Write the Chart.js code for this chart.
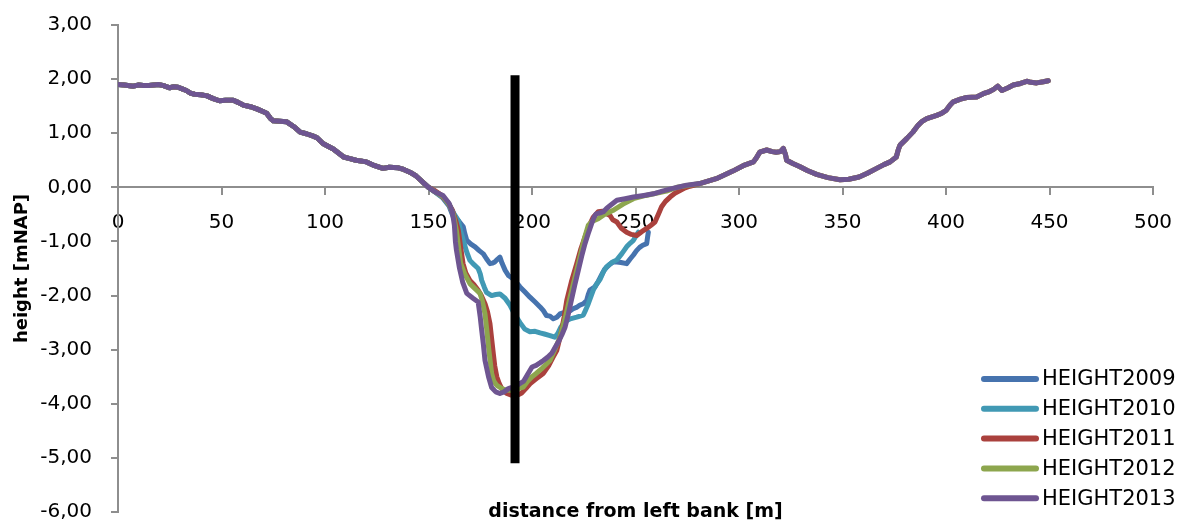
<!DOCTYPE html>
<html>
<head>
<meta charset="utf-8">
<title>Cross-section heights</title>
<script src="https://cdn.jsdelivr.net/npm/chart.js@4.4.1/dist/chart.umd.min.js"></script>
<style>
html, body { margin: 0; padding: 0; background: #fff; }
#wrap { width: 1182px; height: 525px; }
</style>
</head>
<body>
<div id="wrap"><canvas id="profileChart" width="1182" height="525"></canvas></div>
<script>
// [distance m, height mNAP] pairs
var leftBank = [
    [0,1.90],[3,1.89],[7.4,1.87],[10,1.89],[12.2,1.88],[15,1.88],[19.5,1.90],[22,1.88],[25,1.84],[27,1.86],
    [29,1.85],[31,1.82],[33,1.79],[35,1.74],[37,1.72],[40,1.71],[43,1.69],[46,1.64],[49,1.60],[52,1.61],
    [55.7,1.61],[58,1.57],[60.5,1.52],[64,1.49],[67,1.45],[70,1.40],[71.8,1.37],[73.5,1.28],[75,1.23],[78,1.22],
    [81.5,1.21],[85,1.12],[88,1.02],[91,0.99],[94,0.95],[96,0.92],[99,0.81],[101,0.77],[104,0.71],[107,0.62],
    [109,0.56],[112,0.53],[115,0.50],[120,0.47],[124,0.40],[128,0.35],[131,0.37],[135.4,0.36],[138,0.33],[141,0.28],
    [144,0.21],[146,0.14],[148,0.07],[150,0.0]
];

var rightBank = [
    [281,0.07],[289,0.16],[297,0.30],[302,0.40],[307,0.47],[308.5,0.55],[310,0.65],[313.4,0.69],[316,0.66],[318,0.65],
    [320,0.66],[321.4,0.72],[322.5,0.60],[323,0.50],[326,0.44],[329.5,0.38],[333,0.31],[337.5,0.24],[343,0.18],[348.8,0.14],
    [353,0.15],[358,0.19],[362,0.26],[366.5,0.35],[370,0.42],[373,0.47],[376,0.56],[377,0.70],[377.8,0.78],[381,0.90],
    [384,1.02],[386.6,1.15],[388.5,1.22],[390.7,1.27],[395.5,1.33],[398,1.37],[400,1.42],[402,1.52],[403.5,1.58],[407,1.63],
    [410,1.66],[414.8,1.67],[418,1.73],[421,1.77],[423,1.81],[425,1.87],[427,1.79],[430,1.84],[432.5,1.89],[436,1.92],
    [439,1.96],[441,1.94],[443.8,1.93],[447,1.95],[449.4,1.97]
];

var channel2009 = [
    [153,-0.08],[157,-0.20],[160,-0.35],[162,-0.55],[164.5,-0.62],[166.8,-0.73],[167.5,-0.85],[168.5,-0.98],[170.5,-1.05],[172.5,-1.10],
    [174.5,-1.17],[176.5,-1.23],[178,-1.32],[179.7,-1.41],[181,-1.40],[182,-1.38],[183.3,-1.33],[184.5,-1.29],[185.5,-1.40],[187,-1.53],
    [188.6,-1.63],[190.5,-1.68],[192.5,-1.76],[194.2,-1.84],[196.5,-1.93],[199,-2.03],[201.5,-2.12],[203.9,-2.21],[205.5,-2.28],[207,-2.37],
    [208.7,-2.38],[210.3,-2.43],[212,-2.40],[213.5,-2.34],[215,-2.32],[216.8,-2.30],[218.5,-2.28],[220,-2.24],[221.5,-2.22],[223,-2.18],
    [224.8,-2.15],[226.4,-2.09],[227.2,-1.98],[228,-1.90],[230.4,-1.84],[232,-1.74],[233.6,-1.62],[235,-1.52],[236,-1.48],[237.7,-1.42],
    [239.3,-1.38],[241,-1.38],[243,-1.39],[245.7,-1.41],[247.5,-1.32],[249,-1.25],[250.5,-1.17],[252,-1.11],[253.5,-1.07],[255.4,-1.04],
    [255.8,-0.93],[256.2,-0.83]
];

var channel2010 = [
    [153,-0.08],[157,-0.18],[160,-0.32],[162.5,-0.50],[164.4,-0.61],[165.5,-0.80],[166.8,-0.98],[168.5,-1.20],[170,-1.35],[172,-1.43],
    [174,-1.50],[175,-1.60],[175.7,-1.72],[177,-1.85],[178,-1.94],[180.5,-2.00],[182.5,-1.98],[184.5,-1.97],[187,-2.05],[189.4,-2.18],
    [191,-2.30],[192.5,-2.40],[194.2,-2.50],[196.5,-2.62],[199,-2.67],[201.5,-2.66],[203.9,-2.69],[206,-2.71],[208.7,-2.74],[211,-2.77],
    [212.5,-2.70],[214,-2.58],[216,-2.48],[218.5,-2.43],[221.6,-2.40],[224.8,-2.36],[226,-2.26],[227.2,-2.15],[229.6,-1.90],[231,-1.80],
    [232.9,-1.70],[234.5,-1.56],[236,-1.47],[238.5,-1.39],[241,-1.34],[243.5,-1.22],[245.7,-1.10],[247.5,-1.03],[249,-0.98],[250.2,-0.90],
    [251.4,-0.83]
];

var channel2011 = [
    [153,-0.06],[156,-0.14],[159,-0.26],[161.5,-0.42],[163,-0.60],[164.4,-0.79],[165.5,-1.10],[166.7,-1.41],[168,-1.58],[170,-1.72],
    [172,-1.80],[174,-1.90],[175.5,-2.00],[177.3,-2.15],[178.5,-2.30],[179.7,-2.52],[180.5,-2.80],[181.3,-3.07],[182,-3.30],[183,-3.50],
    [184.2,-3.63],[185.4,-3.72],[187.8,-3.81],[190,-3.84],[192.6,-3.85],[195,-3.80],[197,-3.72],[199,-3.63],[202,-3.54],[205.4,-3.44],
    [208,-3.30],[210,-3.15],[212,-3.01],[214,-2.70],[215.5,-2.40],[216.8,-2.09],[219,-1.75],[221.6,-1.41],[223.5,-1.15],[225.6,-0.92],
    [227.5,-0.72],[229.6,-0.55],[232,-0.45],[234,-0.44],[236,-0.49],[237.7,-0.52],[239,-0.60],[241,-0.64],[243,-0.75],[245.7,-0.83],
    [248,-0.87],[250.6,-0.89],[253,-0.82],[255.4,-0.76],[257.5,-0.70],[259.4,-0.64],[261,-0.50],[262.6,-0.36],[264.5,-0.26],[266.7,-0.18],
    [269,-0.11],[271.5,-0.06],[274,-0.01],[276.3,0.02]
];

var channel2012 = [
    [153,-0.08],[157,-0.17],[160,-0.32],[162,-0.50],[163.5,-0.80],[164.5,-1.10],[165.5,-1.40],[167.5,-1.60],[170,-1.78],[171.6,-1.84],
    [174.9,-1.96],[176,-2.10],[177.3,-2.34],[178.2,-2.65],[179,-2.95],[180.5,-3.44],[181.5,-3.58],[183,-3.66],[185.5,-3.72],[187.8,-3.75],
    [190,-3.75],[192.5,-3.73],[195.8,-3.69],[198,-3.58],[200,-3.50],[202,-3.44],[205,-3.34],[208.7,-3.20],[211,-3.00],[213.5,-2.77],
    [216,-2.42],[218.4,-2.03],[220.8,-1.66],[223.2,-1.29],[225.2,-0.96],[227.2,-0.70],[229,-0.63],[232,-0.58],[235,-0.50],[239,-0.43],
    [244,-0.31],[249,-0.21],[255,-0.15],[260,-0.11],[265,-0.07],[270,0.0]
];

var channel2013 = [
    [153,-0.08],[157,-0.15],[160,-0.30],[161.5,-0.45],[162.5,-0.70],[163,-1.00],[163.5,-1.16],[165,-1.50],[166.5,-1.75],[168.5,-1.96],
    [171.5,-2.05],[174,-2.12],[175,-2.40],[175.7,-2.64],[176.5,-2.90],[177.3,-3.20],[179,-3.50],[180.5,-3.70],[182.5,-3.78],[184.5,-3.81],
    [186.5,-3.78],[188.6,-3.72],[190,-3.70],[192,-3.68],[194,-3.63],[196,-3.58],[198,-3.45],[200,-3.32],[202,-3.29],[204,-3.24],
    [205.5,-3.20],[207.5,-3.14],[209.5,-3.07],[211,-2.97],[212.7,-2.86],[214.5,-2.72],[216,-2.58],[217.5,-2.35],[219,-2.09],[220.7,-1.80],
    [222.4,-1.53],[224,-1.27],[225.6,-1.04],[227.2,-0.85],[228.8,-0.67],[230,-0.55],[231,-0.49],[233,-0.47],[234.5,-0.45],[236,-0.39],
    [237,-0.36],[239,-0.30],[241,-0.24],[245,-0.21],[249,-0.18],[254,-0.15],[258.6,-0.12],[263,-0.07],[268,-0.02],[271.5,0.01],
    [274.7,0.04]
];

// vertical reference line at the measuring location
var markerLine = [[191.8,-5.1],[191.8,2.07]];

var seriesNames = ['HEIGHT2009', 'HEIGHT2010', 'HEIGHT2011', 'HEIGHT2012', 'HEIGHT2013'];
var seriesColors = ['#4673ae', '#4199b4', '#aa413d', '#8da64e', '#6e5591'];

var xTicks = { min: 0, max: 500, step: 50 };
var yTicks = { min: -6, max: 3, step: 1 };

function toPoints(pairs) {
    return pairs.map(function(p) { return { x: p[0], y: p[1] }; });
}

var profiles = [
    leftBank.concat(channel2009),
    leftBank.concat(channel2010),
    leftBank.concat(channel2011, rightBank),
    leftBank.concat(channel2012, rightBank),
    leftBank.concat(channel2013, rightBank)
];

var datasets = profiles.map(function(pairs, i) {
    return {
        label: seriesNames[i],
        data: toPoints(pairs),
        borderColor: seriesColors[i],
        backgroundColor: seriesColors[i],
        borderWidth: 5,
        borderJoinStyle: 'round',
        borderCapStyle: 'round',
        pointRadius: 0,
        tension: 0,
        // later years sit on top
        order: seriesNames.length - i
    };
});

datasets.push({
    label: 'marker',
    data: toPoints(markerLine),
    borderColor: '#000',
    borderWidth: 9,
    borderCapStyle: 'butt',
    pointRadius: 0,
    order: 0
});

var axisGrey = '#8e8e8e';
var tickFont = { family: 'DejaVu Sans', size: 20 };

// legend and x-axis caption drawn over the plot area
var overlayPlugin = {
    id: 'overlay',
    afterDraw: function(chart) {
        var ctx = chart.ctx;
        ctx.save();
        ctx.textBaseline = 'middle';
        ctx.textAlign = 'left';
        ctx.font = '21px "DejaVu Sans"';
        ctx.lineCap = 'round';
        seriesNames.forEach(function(name, i) {
            var y = 379 + i * 29.8;
            ctx.strokeStyle = seriesColors[i];
            ctx.lineWidth = 6;
            ctx.beginPath();
            ctx.moveTo(984, y);
            ctx.lineTo(1036, y);
            ctx.stroke();
            ctx.fillStyle = '#000';
            ctx.fillText(name, 1042, y + 1);
        });
        var area = chart.chartArea;
        ctx.textAlign = 'center';
        ctx.font = 'bold 19px "DejaVu Sans"';
        ctx.fillText('distance from left bank [m]', (area.left + area.right) / 2, 512);
        ctx.restore();
    }
};

new Chart(document.getElementById('profileChart').getContext('2d'), {
    type: 'line',
    data: { datasets: datasets },
    plugins: [overlayPlugin],
    options: {
        responsive: false,
        animation: false,
        layout: { padding: { left: 0, right: 29, top: 25, bottom: 13 } },
        plugins: {
            legend: { display: false },
            tooltip: { enabled: false }
        },
        scales: {
            x: {
                type: 'linear',
                position: { y: 0 },
                min: xTicks.min,
                max: xTicks.max,
                // labels may overhang the plot edges
                afterFit: function(scale) { scale.paddingLeft = 0; scale.paddingRight = 0; },
                ticks: {
                    stepSize: xTicks.step,
                    color: '#000',
                    font: tickFont,
                    padding: 16,
                    maxRotation: 0
                },
                grid: { drawOnChartArea: false, color: axisGrey, lineWidth: 2, tickLength: 7 },
                border: { color: axisGrey, width: 2 }
            },
            y: {
                type: 'linear',
                position: 'left',
                min: yTicks.min,
                max: yTicks.max,
                afterFit: function(scale) {
                    scale.width = 118;
                    scale.paddingTop = 0;
                    scale.paddingBottom = 0;
                },
                ticks: {
                    stepSize: yTicks.step,
                    color: '#000',
                    font: tickFont,
                    padding: 19,
                    callback: function(v) { return v.toFixed(2).replace('.', ','); }
                },
                grid: { drawOnChartArea: false, color: axisGrey, lineWidth: 2, tickLength: 7 },
                border: { color: axisGrey, width: 2 },
                title: {
                    display: true,
                    text: 'height [mNAP]',
                    color: '#000',
                    font: { family: 'DejaVu Sans', size: 18, weight: 'bold' },
                    padding: { top: 12, bottom: 0 }
                }
            }
        }
    }
});
</script>
</body>
</html>
